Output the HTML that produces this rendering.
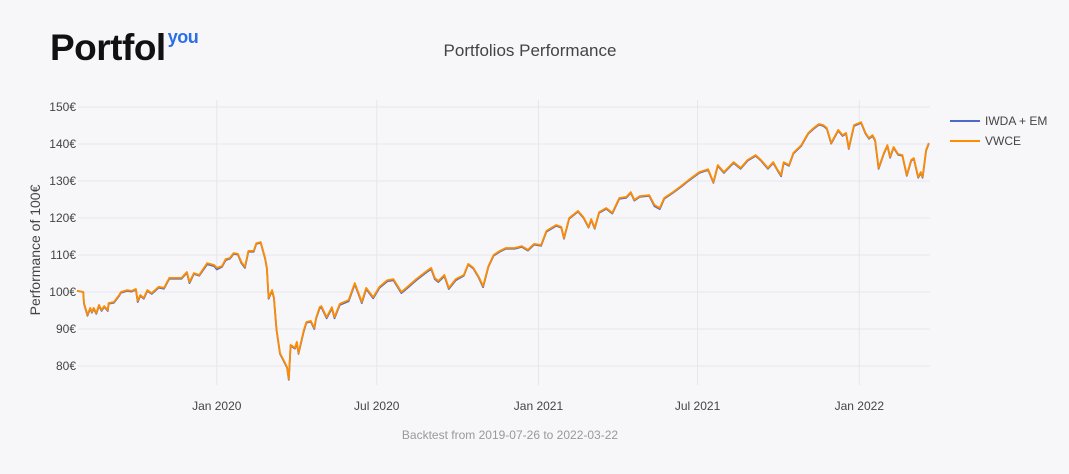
<!DOCTYPE html>
<html><head><meta charset="utf-8"><style>
body{margin:0;background:#f7f7fa;font-family:"Liberation Sans",sans-serif;}
#wrap{position:relative;width:1069px;height:474px;overflow:hidden;background:#f7f7fa;}
.logo{position:absolute;left:50px;top:27px;font-weight:bold;font-size:37px;color:#111;letter-spacing:-0.5px;}
.logo sup{font-size:18px;color:#2a6ee8;position:relative;top:-4px;margin-left:2px;}
</style></head><body>
<div id="wrap">
<div class="logo">Portfol<sup>you</sup></div>
<svg id="chart" width="1069" height="474" style="position:absolute;left:0;top:0"></svg>
</div>
<script>
const days=[0,7,8,12,15,17,19,22,25,28,31,35,36,42,48,50,57,62,67,69,72,76,80,85,93,99,105,111,119,125,128,133,139,148,156,159,165,169,174,178,183,187,191,195,201,204,209,214,216,218,222,224,227,231,235,239,241,243,248,250,252,258,261,266,270,272,276,278,284,290,293,299,309,316,324,329,337,344,353,360,369,376,386,398,403,407,411,418,423,431,440,445,451,457,462,468,474,481,488,498,506,513,520,528,534,545,551,554,560,570,576,582,585,589,594,602,609,617,625,630,634,640,651,657,663,668,678,687,696,708,718,724,729,736,747,755,763,772,778,786,792,797,801,804,810,815,824,832,838,844,849,853,858,866,871,875,878,884,892,897,901,905,908,912,918,922,925,929,934,939,944,949,952,957,960,962,966,969];
const vwce=[100.3,100.0,97.0,93.8,95.7,94.6,95.7,94.3,96.5,95.1,96.2,95.1,97.0,97.3,99.2,100.0,100.5,100.3,100.8,97.6,99.2,98.4,100.5,99.7,101.4,101.1,103.8,103.8,103.8,105.4,102.7,105.1,104.6,107.8,107.3,106.5,107.0,108.9,109.2,110.5,110.3,108.1,106.8,111.1,111.1,113.2,113.5,109.2,106.5,98.4,100.5,98.6,90.0,83.5,81.6,79.7,76.5,85.7,84.9,86.5,83.5,89.7,91.9,92.2,90.3,93.0,95.9,96.2,93.2,95.9,93.2,96.8,97.8,102.4,97.3,101.1,98.6,101.4,103.2,103.5,100.0,101.4,103.5,105.7,106.5,103.8,103.0,104.6,101.1,103.5,104.6,107.6,106.5,104.1,101.6,107.0,110.0,111.1,111.9,111.9,112.4,111.4,113.0,112.7,116.5,118.1,117.6,114.6,120.0,121.9,120.3,117.6,119.7,117.3,121.6,122.7,121.4,125.4,125.7,127.0,124.9,125.9,126.2,123.5,122.7,125.4,127.0,128.6,130.3,132.4,133.2,129.7,134.3,132.4,135.1,133.5,135.7,137.0,135.7,133.5,135.1,133.0,131.6,135.1,134.3,137.6,139.7,143.0,144.3,145.4,145.1,144.3,140.3,143.8,142.4,143.0,138.9,145.1,145.9,143.0,141.6,142.4,141.1,133.5,137.6,139.7,136.5,139.2,137.3,137.0,131.6,135.7,136.2,131.1,132.4,131.1,138.4,140.3];
const iwda=[100.3,100.0,96.8,93.6,95.5,94.4,95.5,94.1,96.3,94.9,96.0,94.9,96.8,97.1,99.0,99.8,100.3,100.1,100.6,97.3,99.0,98.2,100.3,99.5,101.2,100.9,103.6,103.6,103.6,105.2,102.4,104.9,104.4,107.5,107.0,106.1,106.8,108.6,109.0,110.3,110.1,107.8,106.5,110.9,110.9,113.0,113.3,109.0,106.3,98.2,100.3,98.4,89.8,83.3,81.4,79.5,76.3,85.5,84.7,86.3,83.3,89.4,91.7,92.0,90.0,92.8,95.6,95.9,92.9,95.6,92.9,96.5,97.5,102.1,97.0,100.8,98.3,101.1,102.9,103.2,99.7,101.1,103.2,105.4,106.2,103.5,102.7,104.3,100.8,103.2,104.4,107.4,106.3,103.9,101.3,106.8,109.8,110.9,111.7,111.7,112.2,111.2,112.8,112.5,116.3,117.9,117.4,114.4,119.8,121.7,120.1,117.4,119.5,117.1,121.4,122.5,121.2,125.2,125.5,126.8,124.7,125.7,126.0,123.2,122.4,125.2,126.8,128.4,130.1,132.2,133.0,129.5,134.1,132.2,134.9,133.3,135.5,136.8,135.5,133.3,134.9,132.8,131.3,134.9,134.1,137.4,139.5,142.8,144.1,145.2,144.9,144.1,140.1,143.6,142.2,142.8,138.7,144.9,145.7,142.8,141.4,142.2,140.9,133.3,137.4,139.5,136.3,139.0,137.1,136.8,131.4,135.5,136.0,130.9,132.2,130.9,138.2,140.1];
const yTicks=[80,90,100,110,120,130,140,150];
const xTickDays=[159,341,525,706,890];
const xTickLabels=["Jan 2020","Jul 2020","Jan 2021","Jul 2021","Jan 2022"];

const svg=document.getElementById('chart');
const NS='http://www.w3.org/2000/svg';
const X=d=>77+d*0.879;
const Y=v=>366-(v-80)*3.7;
function mk(tag,attrs,txt){const e=document.createElementNS(NS,tag);for(const k in attrs)e.setAttribute(k,attrs[k]);if(txt!==undefined)e.textContent=txt;svg.appendChild(e);return e;}

yTicks.forEach(v=>{
  const g=mk('line',{x1:78,x2:930,y1:Y(v),y2:Y(v),stroke:'#e6e6ec','stroke-width':1});
  
  
  const t=mk('text',{x:76,y:Y(v)+4,'text-anchor':'end','font-size':12,fill:'#444'},v+'€');
  
  
});
xTickDays.forEach((d,i)=>{
  const g=mk('line',{x1:X(d),x2:X(d),y1:100,y2:385,stroke:'#e6e6ec','stroke-width':1});
  
  
  const t=mk('text',{x:X(d),y:410,'text-anchor':'middle','font-size':12,fill:'#444'},xTickLabels[i]);
  
  
});
function series(vals,color,name){
  const p=days.map((d,i)=>(i?'L':'M')+X(d).toFixed(1)+','+Y(vals[i]).toFixed(1)).join('');
  const e=mk('path',{d:p,fill:'none',stroke:color,'stroke-width':1.8,'stroke-linejoin':'round'});
  
  
}
series(iwda,'#4a6bc8','line-iwda-em');
series(vwce,'#ff8c00','line-vwce');

let t;
t=mk('text',{x:530,y:56,'text-anchor':'middle','font-size':17,fill:'#444'},'Portfolios Performance');


t=mk('text',{x:40,y:250,'text-anchor':'middle','font-size':14,fill:'#444',transform:'rotate(-90 40 250)'},'Performance of 100€');


t=mk('text',{x:510,y:439,'text-anchor':'middle','font-size':12,fill:'#999'},'Backtest from 2019-07-26 to 2022-03-22');


[['IWDA + EM','#4a6bc8',121,'legend-entry-iwda-em'],['VWCE','#ff8c00',141,'legend-entry-vwce']].forEach(l=>{
  const ln=mk('line',{x1:950,x2:980,y1:l[2],y2:l[2],stroke:l[1],'stroke-width':2});
  
  
  const tx=mk('text',{x:985,y:l[2]+4,'font-size':12,fill:'#444'},l[0]);
  
  
});
</script>
</body></html>
